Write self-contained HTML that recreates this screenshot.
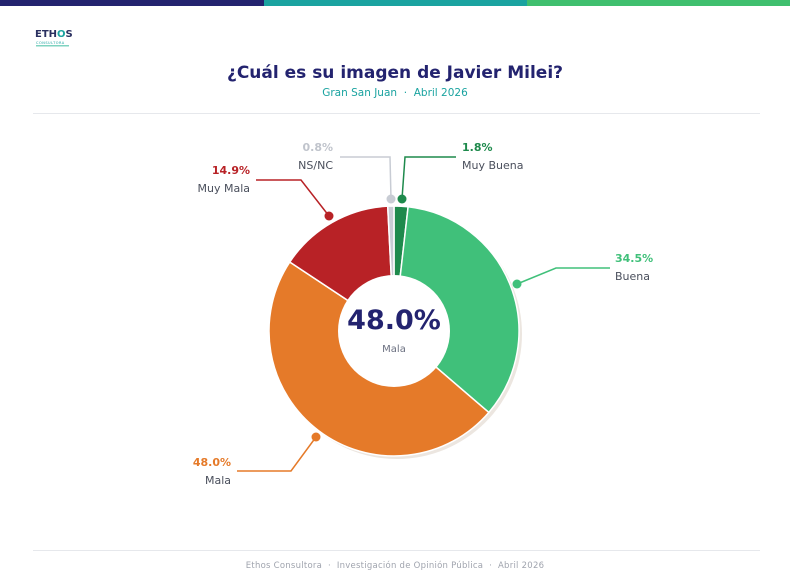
<!DOCTYPE html>
<html><head><meta charset="utf-8"><style>
body{margin:0;width:790px;height:577px;background:#fff;overflow:hidden;font-family:"DejaVu Sans","Liberation Sans",sans-serif}
</style></head><body>
<svg width="790" height="577" viewBox="0 0 790 577" xmlns="http://www.w3.org/2000/svg" font-family="DejaVu Sans, Liberation Sans, sans-serif">
<rect x="0" y="0" width="264" height="6" fill="#23236f"/>
<rect x="264" y="0" width="263" height="6" fill="#1aa3a0"/>
<rect x="527" y="0" width="263" height="6" fill="#3fbf6e"/>
<text x="35" y="37" font-size="10" font-weight="bold" fill="#2a3060">ETH<tspan fill="#1aa3a0">O</tspan>S</text>
<text x="36" y="44" font-size="3.5" fill="#1aa3a0" letter-spacing="0.5">CONSULTORA</text>
<rect x="36" y="45" width="33" height="1.5" fill="#7fd3c0"/>
<text x="395" y="78" font-size="17" font-weight="bold" fill="#23236f" text-anchor="middle">¿Cuál es su imagen de Javier Milei?</text>
<text x="395" y="96" font-size="10.5" fill="#1aa3a0" text-anchor="middle" xml:space="preserve">Gran San Juan  ·  Abril 2026</text>
<line x1="33" y1="113.5" x2="760" y2="113.5" stroke="#e6e8ec"/>
<line x1="33" y1="550.5" x2="760" y2="550.5" stroke="#e6e8ec"/>
<text x="395" y="568" font-size="8.5" fill="#a0a4ae" text-anchor="middle" letter-spacing="0.25" xml:space="preserve">Ethos Consultora  ·  Investigación de Opinión Pública  ·  Abril 2026</text>
<g id="pie"></g>
<circle cx="394" cy="331" r="56" fill="#fff"/>
<text x="394" y="329" font-size="27" font-weight="bold" fill="#23236f" text-anchor="middle">48.0%</text>
<text x="394" y="352" font-size="10" fill="#6b7080" text-anchor="middle">Mala</text>
<g fill="none" stroke-width="1.5">
<polyline points="402,199 405,157 456,157" stroke="#1e8a4c"/>
<polyline points="391,199 390,157 340,157" stroke="#c8ccd4"/>
<polyline points="329,216 301,180 256,180" stroke="#b82226"/>
<polyline points="517,284 556,268 610,268" stroke="#40c07a"/>
<polyline points="316,437 291,471 237,471" stroke="#e57a29"/>
</g>
<circle cx="402" cy="199" r="4.5" fill="#1e8a4c"/>
<circle cx="391" cy="199" r="4.5" fill="#c8ccd4"/>
<circle cx="329" cy="216" r="4.5" fill="#b82226"/>
<circle cx="517" cy="284" r="4.5" fill="#40c07a"/>
<circle cx="316" cy="437" r="4.5" fill="#e57a29"/>
<g font-size="11">
<text x="462" y="151" font-weight="bold" fill="#1e8a4c">1.8%</text>
<text x="462" y="169" fill="#4a4f5c">Muy Buena</text>
<text x="333" y="151" font-weight="bold" fill="#c0c4cc" text-anchor="end">0.8%</text>
<text x="333" y="169" fill="#4a4f5c" text-anchor="end">NS/NC</text>
<text x="250" y="174" font-weight="bold" fill="#b82226" text-anchor="end">14.9%</text>
<text x="250" y="192" fill="#4a4f5c" text-anchor="end">Muy Mala</text>
<text x="615" y="262" font-weight="bold" fill="#40c07a">34.5%</text>
<text x="615" y="280" fill="#4a4f5c">Buena</text>
<text x="231" y="466" font-weight="bold" fill="#e57a29" text-anchor="end">48.0%</text>
<text x="231" y="484" fill="#4a4f5c" text-anchor="end">Mala</text>
</g>
</svg>
<script>
(function(){
var d=[[1.8,"#1e8a4c"],[34.5,"#40c07a"],[48.0,"#e57a29"],[14.9,"#b82226"],[0.8,"#c8ccd4"]];
var cx=394,cy=331,R=125,g=document.getElementById("pie"),a=-Math.PI/2,ns="http://www.w3.org/2000/svg";
var sh=document.createElementNS(ns,"circle");sh.setAttribute("cx",cx+3);sh.setAttribute("cy",cy+3);sh.setAttribute("r",R);sh.setAttribute("fill","#ece6e0");g.appendChild(sh);
d.forEach(function(s){var b=a+s[0]/100*2*Math.PI;
var x1=cx+R*Math.cos(a),y1=cy+R*Math.sin(a),x2=cx+R*Math.cos(b),y2=cy+R*Math.sin(b);
var p=document.createElementNS(ns,"path");
p.setAttribute("d","M"+cx+","+cy+"L"+x1+","+y1+"A"+R+","+R+" 0 "+((b-a)>Math.PI?1:0)+" 1 "+x2+","+y2+"Z");
p.setAttribute("fill",s[1]);p.setAttribute("stroke","#fff");p.setAttribute("stroke-width","1.5");g.appendChild(p);a=b;});
})();
</script>
</body></html>
